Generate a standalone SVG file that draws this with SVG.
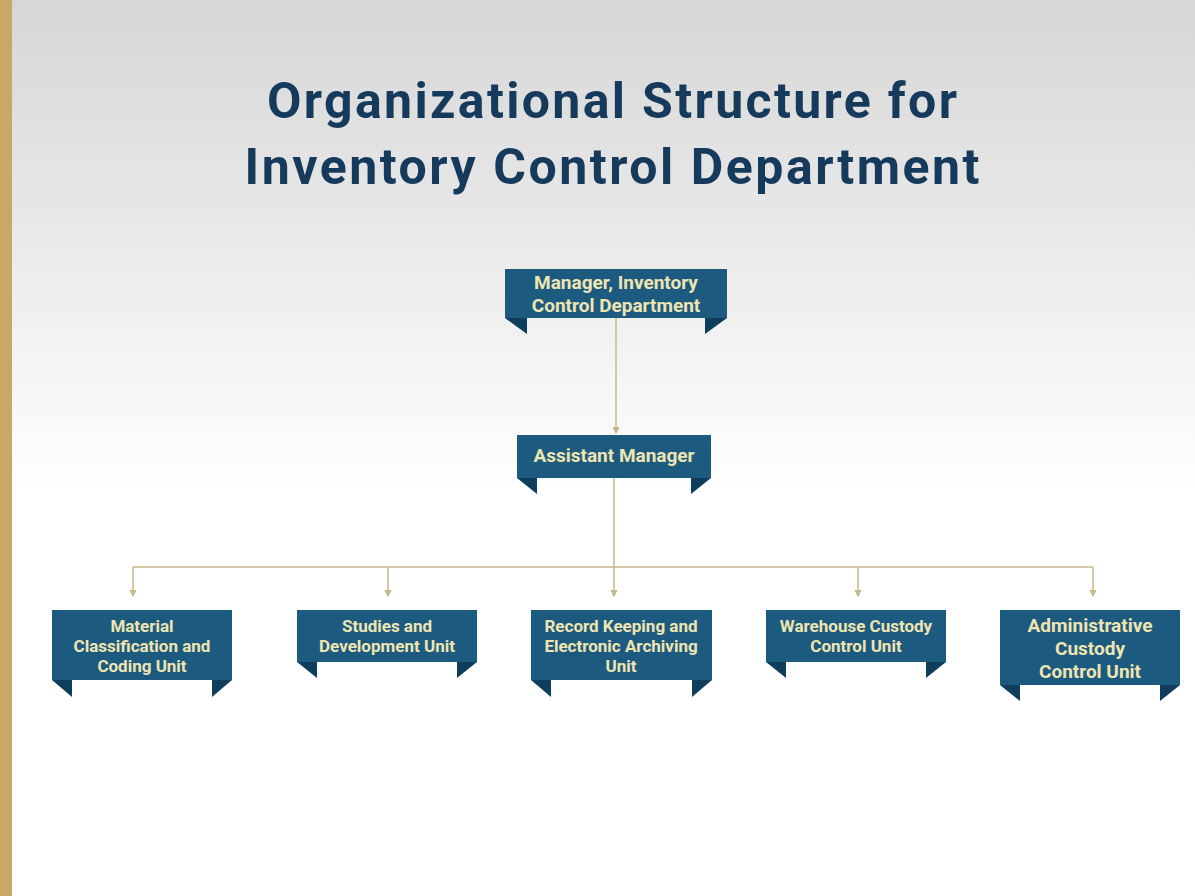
<svg xmlns="http://www.w3.org/2000/svg" width="1195" height="896" viewBox="0 0 1195 896">
<defs>
<linearGradient id="bg" x1="0" y1="0" x2="0" y2="1">
<stop offset="0" stop-color="#d6d6d6"/><stop offset="0.3" stop-color="#ececec"/><stop offset="0.55" stop-color="#ffffff"/><stop offset="1" stop-color="#ffffff"/>
</linearGradient>
<marker id="ar" viewBox="0 0 6 6" refX="5" refY="3" markerWidth="5" markerHeight="5" orient="auto"><path d="M0,0 L6,3 L0,6 z" fill="#c8b88a"/></marker>
<style>
.box{fill:#1d5a80}
.flap{fill:#0f3d5c}
.t{font-family:Roboto,"Liberation Sans",sans-serif;font-weight:bold;font-size:17px;fill:#efe5b0;text-anchor:middle}
.title{font-family:Roboto,"Liberation Sans",sans-serif;font-weight:bold;font-size:50px;fill:#163a5c;text-anchor:middle}
.c{stroke:#c8b88a;stroke-width:1.5;fill:none}
</style>
</defs>
<rect width="1195" height="896" fill="url(#bg)"/>
<rect x="0" y="0" width="12" height="896" fill="#c9a865"/>
<text class="title" x="612" y="118" textLength="690" lengthAdjust="spacing">Organizational Structure for</text>
<text class="title" x="612" y="184" textLength="735" lengthAdjust="spacing">Inventory Control Department</text>
<g id="connectors">
<path class="c" d="M616,318 V433" marker-end="url(#ar)"/>
<path class="c" d="M614,478 V567 M133,567 H1093"/>
<path class="c" d="M133,567 V596" marker-end="url(#ar)"/>
<path class="c" d="M388,567 V596" marker-end="url(#ar)"/>
<path class="c" d="M614,567 V596" marker-end="url(#ar)"/>
<path class="c" d="M858,567 V596" marker-end="url(#ar)"/>
<path class="c" d="M1093,567 V596" marker-end="url(#ar)"/>
</g>
<g id="manager">
<polygon class="flap" points="505,318 527,318 527,334"/><polygon class="flap" points="727,318 705,318 705,334"/>
<rect class="box" x="505" y="269" width="222" height="49"/>
<text class="t" x="616" y="289" style="font-size:19px">Manager, Inventory</text><text class="t" x="616" y="312" style="font-size:19px">Control Department</text>
</g>
<g id="assistant">
<polygon class="flap" points="517,478 537,478 537,494"/><polygon class="flap" points="711,478 691,478 691,494"/>
<rect class="box" x="517" y="435" width="194" height="43"/>
<text class="t" x="614" y="462" style="font-size:19px">Assistant Manager</text>
</g>
<g id="u1">
<polygon class="flap" points="52,680 72,680 72,697"/><polygon class="flap" points="232,680 212,680 212,697"/>
<rect class="box" x="52" y="610" width="180" height="70"/>
<text class="t" x="142" y="632">Material</text><text class="t" x="142" y="652">Classification and</text><text class="t" x="142" y="672">Coding Unit</text>
</g>
<g id="u2">
<polygon class="flap" points="297,662 317,662 317,678"/><polygon class="flap" points="477,662 457,662 457,678"/>
<rect class="box" x="297" y="610" width="180" height="52"/>
<text class="t" x="387" y="632">Studies and</text><text class="t" x="387" y="652">Development Unit</text>
</g>
<g id="u3">
<polygon class="flap" points="531,680 551,680 551,697"/><polygon class="flap" points="712,680 692,680 692,697"/>
<rect class="box" x="531" y="610" width="181" height="70"/>
<text class="t" x="621" y="632">Record Keeping and</text><text class="t" x="621" y="652">Electronic Archiving</text><text class="t" x="621" y="672">Unit</text>
</g>
<g id="u4">
<polygon class="flap" points="766,662 786,662 786,678"/><polygon class="flap" points="946,662 926,662 926,678"/>
<rect class="box" x="766" y="610" width="180" height="52"/>
<text class="t" x="856" y="632">Warehouse Custody</text><text class="t" x="856" y="652">Control Unit</text>
</g>
<g id="u5">
<polygon class="flap" points="1000,685 1020,685 1020,701"/><polygon class="flap" points="1180,685 1160,685 1160,701"/>
<rect class="box" x="1000" y="610" width="180" height="75"/>
<text class="t" x="1090" y="632" style="font-size:19px">Administrative</text><text class="t" x="1090" y="655" style="font-size:19px">Custody</text><text class="t" x="1090" y="678" style="font-size:19px">Control Unit</text>
</g>
</svg>
